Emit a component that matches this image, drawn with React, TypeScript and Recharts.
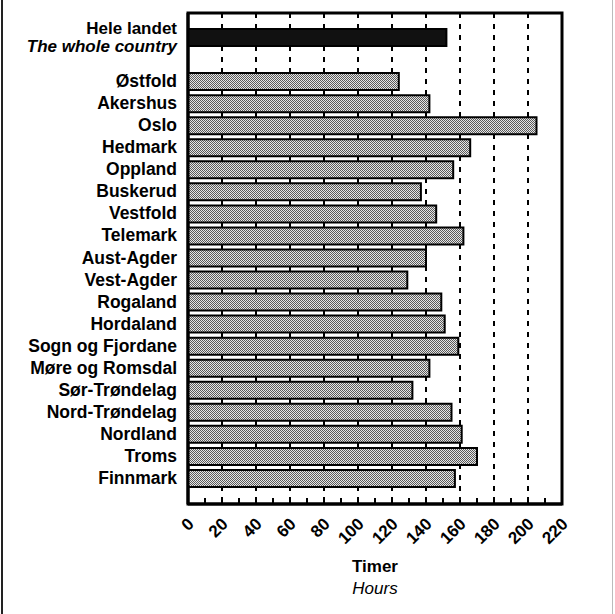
import * as Recharts from 'recharts';
import { BarChart, Bar, XAxis, YAxis, CartesianGrid, Cell } from 'recharts';

// counties, with a blank row between the national total and the counties
const counties = [
  'Hele landet',
  '',
  'Østfold',
  'Akershus',
  'Oslo',
  'Hedmark',
  'Oppland',
  'Buskerud',
  'Vestfold',
  'Telemark',
  'Aust-Agder',
  'Vest-Agder',
  'Rogaland',
  'Hordaland',
  'Sogn og Fjordane',
  'Møre og Romsdal',
  'Sør-Trøndelag',
  'Nord-Trøndelag',
  'Nordland',
  'Troms',
  'Finnmark',
];
const hours = [152, null, 124, 142, 205, 166, 156, 137, 146, 162, 140, 129, 149, 151, 159, 142, 132, 155, 161, 170, 157];
const xTicks = [0, 10, 20, 30, 40, 50, 60, 70, 80, 90, 100, 110, 120, 130, 140, 150, 160, 170, 180, 190, 200, 210, 220];
const gridValues = [20, 40, 60, 80, 100, 120, 140, 160, 180, 200];

const data = counties.map((name, i) => ({ name, hours: hours[i] }));

const FONT = '"Liberation Sans", Arial, sans-serif';

// thick box round the plot area
const Frame = () => {
  const R: any = Recharts;
  let area: any = null;
  if (typeof R.usePlotArea === 'function') {
    area = R.usePlotArea();
  } else if (typeof R.useOffset === 'function') {
    const off = R.useOffset();
    const w = R.useChartWidth();
    const h = R.useChartHeight();
    if (off && w && h) {
      area = { x: off.left, y: off.top, width: w - off.left - off.right, height: h - off.top - off.bottom };
    }
  }
  if (!area) return null;
  return (
    <rect x={area.x} y={area.y} width={area.width} height={area.height} fill='none' stroke='#000' strokeWidth={3} />
  );
};

const CountyTick = (props: any) => {
  const { x, y, payload } = props;
  if (!payload.value) return null;
  if (payload.value === 'Hele landet') {
    return (
      <g fontFamily={FONT} fontWeight={700} fontSize={17} fill='#000'>
        <text x={x} y={y - 3} textAnchor='end'>Hele landet</text>
        <text x={x} y={y + 15} textAnchor='end' fontStyle='italic'>The whole country</text>
      </g>
    );
  }
  return (
    <text x={x} y={y + 6} textAnchor='end' fontFamily={FONT} fontWeight={700} fontSize={17.5} fill='#000'>
      {payload.value}
    </text>
  );
};

const HourTick = (props: any) => {
  const { x, y, payload } = props;
  const v = payload.value;
  const major = v % 20 === 0;
  const tx = x + 7;
  const ty = y + 21;
  return (
    <g>
      {v > 0 && v < 220 && (
        <line x1={x} x2={x} y1={y} y2={y - 6} stroke='#000' strokeWidth={2} />
      )}
      {major && (
        <text
          x={tx}
          y={ty}
          transform={`rotate(-45 ${tx} ${ty})`}
          textAnchor='end'
          fontFamily={FONT}
          fontWeight={700}
          fontSize={17}
          fill='#000'
        >
          {v}
        </text>
      )}
    </g>
  );
};

const AxisTitle = (props: any) => {
  const { viewBox } = props;
  const cx = viewBox.x + viewBox.width / 2;
  return (
    <g fontFamily={FONT} fontSize={17} fill='#000' textAnchor='middle'>
      <text x={cx} y={viewBox.y + 68} fontWeight={700}>Timer</text>
      <text x={cx} y={viewBox.y + 90} fontStyle='italic'>Hours</text>
    </g>
  );
};

export default function App() {
  return (
    <div style={{ position: 'absolute', left: 0, top: 0, width: 615, height: 614, background: '#fff' }}>
      <div style={{ position: 'absolute', left: 1, top: 0, width: 2, height: 614, background: '#222' }} />
      <div style={{ position: 'absolute', left: 612, top: 0, width: 1, height: 614, background: '#bbb' }} />
      <BarChart
        width={615}
        height={614}
        data={data}
        layout='vertical'
        margin={{ top: 13, right: 53, bottom: 0, left: 0 }}
      >
        <defs>
          <pattern id='dots' width={2} height={2} patternUnits='userSpaceOnUse'>
            <rect width={2} height={2} fill='#e6e6e6' />
            <rect width={1} height={1} fill='#5a5a5a' />
            <rect x={1} y={1} width={1} height={1} fill='#5a5a5a' />
          </pattern>
        </defs>
        <CartesianGrid
          horizontal={false}
          stroke='#000'
          strokeWidth={2}
          strokeDasharray='5 6'
          verticalCoordinatesGenerator={({ xAxis, offset }: any) =>
            gridValues.map((v) =>
              xAxis && typeof xAxis.scale === 'function'
                ? xAxis.scale(v)
                : offset.left + (v / 220) * offset.width
            )
          }
        />
        <XAxis
          type='number'
          dataKey='hours'
          domain={[0, 220]}
          ticks={xTicks}
          interval={0}
          axisLine={{ stroke: '#000', strokeWidth: 3 }}
          tickLine={false}
          tickSize={0}
          tickMargin={0}
          height={110}
          tick={<HourTick />}
          label={<AxisTitle />}
        />
        <YAxis
          type='category'
          dataKey='name'
          width={188}
          interval={0}
          axisLine={{ stroke: '#000', strokeWidth: 3 }}
          tickLine={false}
          tickSize={0}
          tickMargin={11}
          padding={{ top: 13, bottom: 15 }}
          tick={<CountyTick />}
        />
        <Bar dataKey='hours' barSize={17} stroke='#000' strokeWidth={2} isAnimationActive={false}>
          {data.map((d, i) => (
            <Cell key={i} fill={i === 0 ? '#111' : 'url(#dots)'} />
          ))}
        </Bar>
        <Frame />
      </BarChart>
    </div>
  );
}
